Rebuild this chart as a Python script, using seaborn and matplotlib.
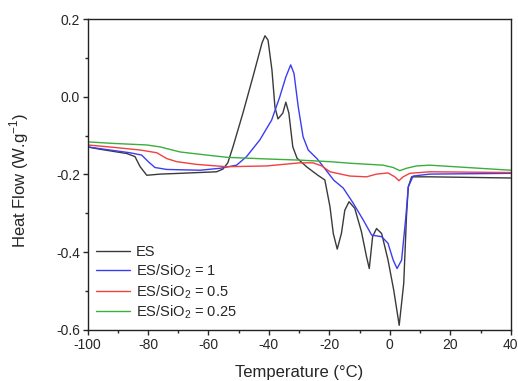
import numpy as np
import pandas as pd
import matplotlib
matplotlib.use("Agg")
import matplotlib.pyplot as plt
from matplotlib.ticker import MultipleLocator
import seaborn as sns

# values
es_t = [-100, -95.9, -87, -84.3, -82.6, -80.4, -76, -69.4, -57.3, -55.2, -53.6, -51.9, -48.6, -45.3,
        -42.3, -41.3, -40.3, -39.0, -38.0, -37.0, -35.4, -34.4, -33.4, -32.1, -30.7, -27.4, -23.8,
        -21.5, -19.8, -18.7, -17.4, -16.0, -14.9, -13.5, -11.6, -9.4, -7.7, -6.8, -5.7, -4.4, -2.7,
        -0.6, 1.3, 3.1, 4.6, 5.5, 6.1, 7.2, 13.2, 40]
es_hf = [-0.129, -0.135, -0.146, -0.154, -0.180, -0.202, -0.199, -0.197, -0.193, -0.186, -0.170,
         -0.129, -0.042, 0.051, 0.138, 0.157, 0.146, 0.069, -0.027, -0.057, -0.042, -0.014, -0.042,
         -0.129, -0.158, -0.181, -0.202, -0.214, -0.283, -0.352, -0.392, -0.351, -0.292, -0.270,
         -0.287, -0.347, -0.412, -0.442, -0.360, -0.339, -0.352, -0.420, -0.498, -0.588, -0.480,
         -0.309, -0.232, -0.206, -0.206, -0.209]

s1_t = [-100, -92.6, -86, -82.1, -79.9, -77.7, -73.8, -62.8, -56.2, -50.7, -47.4, -43.0, -39.1,
        -36.4, -34.4, -32.8, -31.7, -30.3, -28.7, -27.0, -24.0, -21.5, -18.5, -15.4, -12.1, -8.8,
        -6.0, -2.7, -0.6, 1.1, 2.4, 3.9, 5.3, 6.1, 7.7, 13.2, 40]
s1_hf = [-0.129, -0.137, -0.144, -0.150, -0.167, -0.182, -0.187, -0.189, -0.184, -0.176, -0.154,
         -0.111, -0.060, 0.0, 0.051, 0.082, 0.060, -0.026, -0.103, -0.137, -0.160, -0.185, -0.215,
         -0.235, -0.274, -0.317, -0.356, -0.360, -0.377, -0.420, -0.442, -0.420, -0.309, -0.232,
         -0.204, -0.199, -0.197]

s05_t = [-100, -91.5, -82.6, -77.1, -73.8, -70.5, -63.9, -54.0, -40.8, -29.8, -25.4, -22.5, -19.8,
         -13.2, -7.7, -4.4, -0.6, 1.65, 3.0, 4.4, 6.6, 13.2, 40]
s05_hf = [-0.124, -0.130, -0.137, -0.144, -0.159, -0.167, -0.174, -0.180, -0.178, -0.170, -0.170,
          -0.178, -0.193, -0.204, -0.206, -0.199, -0.196, -0.206, -0.216, -0.206, -0.197, -0.193,
          -0.195]

s025_t = [-100, -91.5, -80.4, -76, -69.4, -60.6, -53.5, -40.8, -29.8, -19.8, -13.2, -2.2, 1.1, 3.3,
          5.5, 8.8, 13.2, 40]
s025_hf = [-0.116, -0.120, -0.124, -0.129, -0.142, -0.150, -0.156, -0.160, -0.163, -0.167, -0.171,
           -0.176, -0.182, -0.190, -0.184, -0.178, -0.176, -0.189]

labels = ["ES", "ES/SiO$_2$ = 1", "ES/SiO$_2$ = 0.5", "ES/SiO$_2$ = 0.25"]
colors = ["#3a3a3a", "#3c3cf0", "#f04040", "#3cae3c"]

sns.set_style("ticks")
plt.rcParams['font.family'] = ['Liberation Sans', 'DejaVu Sans']
plt.rcParams['mathtext.fontset'] = 'custom'
plt.rcParams['mathtext.rm'] = 'Liberation Sans'
plt.rcParams['axes.unicode_minus'] = False

fig = plt.figure(figsize=(5.18, 3.81), dpi=100)
ax = fig.add_axes([0.169, 0.134, 0.817, 0.816])

series = [(es_t, es_hf), (s1_t, s1_hf), (s05_t, s05_hf), (s025_t, s025_hf)]
for (t, hf), lab, c in zip(series, labels, colors):
    d = pd.DataFrame({"T": t, "HF": hf})
    sns.lineplot(data=d, x="T", y="HF", ax=ax, color=c, lw=1.0, label=lab,
                 estimator=None, sort=False)

ax.set_xlim(-100, 40)
ax.set_ylim(-0.6, 0.2)
ax.xaxis.set_major_locator(MultipleLocator(20))
ax.xaxis.set_minor_locator(MultipleLocator(10))
ax.yaxis.set_major_locator(MultipleLocator(0.2))
ax.yaxis.set_minor_locator(MultipleLocator(0.1))
ax.yaxis.set_major_formatter(plt.FuncFormatter(lambda v, p: "%.1f" % v))
ax.tick_params(which='major', direction='out', length=3.5, width=1, labelsize=10, pad=2)
ax.tick_params(which='minor', direction='out', length=2, width=1)
for sp in ax.spines.values():
    sp.set_visible(True)
    sp.set_linewidth(1.0)
    sp.set_color("#222222")

ax.set_xlabel("Temperature (°C)", fontsize=12)
ax.set_ylabel("Heat Flow (W.g$^{-1}$)", fontsize=12)
ax.xaxis.set_label_coords(0.5, -0.112)
ax.yaxis.set_label_coords(-0.133, 0.482)

leg = ax.legend(loc='lower left', bbox_to_anchor=(0.0, 0.0), frameon=False, fontsize=10.5,
                handlelength=2.3, handletextpad=0.4, labelspacing=0.2, borderaxespad=0.2)

fig.savefig("out.png", dpi=100)
